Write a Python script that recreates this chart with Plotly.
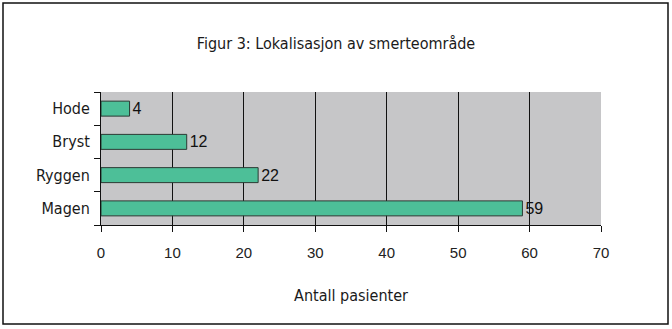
import plotly.graph_objects as go

categories = ["Magen", "Ryggen", "Bryst", "Hode"]
values = [59, 22, 12, 4]
x_ticks = [0, 10, 20, 30, 40, 50, 60, 70]

fig = go.Figure()
fig.add_trace(go.Bar(
    y=categories, x=values, orientation="h",
    marker=dict(color="#4dbf98", line=dict(color="#2a3a33", width=1)),
    width=0.45,
    text=[str(v) for v in values], textposition="outside",
    constraintext="none",
    textfont=dict(family="Liberation Sans, Arial, sans-serif", size=16, color="#111111"),
    cliponaxis=False,
))

W, H = 672, 329
l, r, t, b = 101, 71, 92, 104
pw, ph = W - l - r, H - t - b

fig.update_layout(
    width=W, height=H,
    margin=dict(l=l, r=r, t=t, b=b),
    paper_bgcolor="white", plot_bgcolor="#c6c6c8",
    showlegend=False,
    title=dict(text="Figur 3: Lokalisasjon av smerteområde", x=0.5, xanchor="center",
               y=1 - 43 / H, yanchor="middle",
               font=dict(family="Liberation Sans Narrow, DejaVu Sans Condensed, sans-serif", size=16, color="#1a1a1a")),
    xaxis=dict(range=[0, 70], tickvals=x_ticks, showgrid=True, gridcolor="#111111", gridwidth=1,
               showline=True, linecolor="#111111", linewidth=1,
               ticks="outside", ticklen=6, tickcolor="#111111",
               ticklabelstandoff=8,
               tickfont=dict(family="Liberation Sans, Arial, sans-serif", size=15, color="#222222"),
               title=dict(text="Antall pasienter", standoff=29,
                          font=dict(family="Liberation Sans Narrow, DejaVu Sans Condensed, sans-serif", size=16, color="#1a1a1a")),
               zeroline=False, fixedrange=True),
    yaxis=dict(categoryorder="array", categoryarray=categories,
               showline=True, linecolor="#111111", linewidth=1,
               ticks="outside", ticklen=6, tickcolor="#111111", tickson="boundaries",
               ticklabelstandoff=7,
               tickfont=dict(family="Liberation Sans Narrow, DejaVu Sans Condensed, sans-serif", size=16, color="#1a1a1a"),
               showgrid=False, fixedrange=True),
    bargap=0.55,
)

fig.add_shape(type="rect", xref="paper", yref="paper",
              x0=(3 - l) / pw, x1=(668 - l) / pw,
              y0=(t + ph - 324) / ph, y1=(t + ph - 3) / ph,
              line=dict(color="#111111", width=1.5), fillcolor="rgba(0,0,0,0)", layer="above")

fig.write_html("out.html")
